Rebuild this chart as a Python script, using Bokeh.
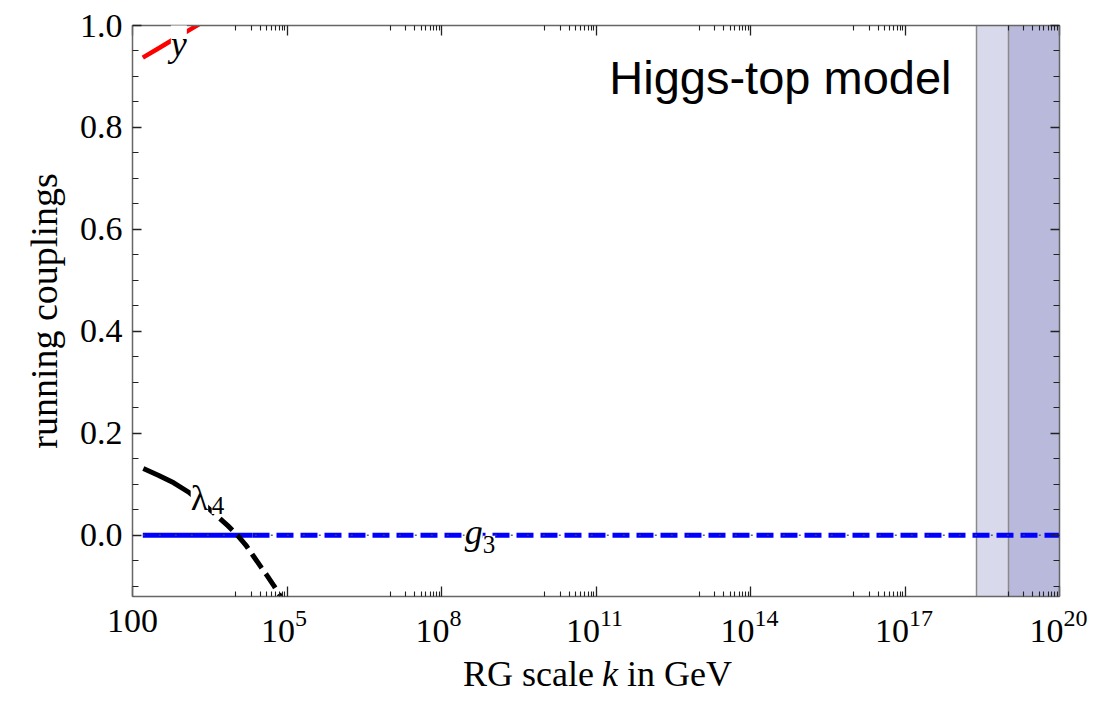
import numpy as np
from bokeh.plotting import figure
from bokeh.layouts import column
from bokeh.models import Range1d, FixedTicker, LogAxis, LinearAxis, Label, PrintfTickFormatter
from bokeh.core.properties import value
from bokeh.embed import file_html
from bokeh.resources import INLINE

# ---------------- data ----------------
x_major_exp = [2, 5, 8, 11, 14, 17, 20]
x_tick_base = ["100", "10", "10", "10", "10", "10", "10"]
x_tick_sup = ["", "5", "8", "11", "14", "17", "20"]
y_major = [0.0, 0.2, 0.4, 0.6, 0.8, 1.0]
y_minor = [-0.10, -0.05, 0.05, 0.10, 0.15, 0.25, 0.30, 0.35, 0.45, 0.50, 0.55,
           0.65, 0.70, 0.75, 0.85, 0.90, 0.95]

# Yukawa coupling y (red)
yuk_logk = [2.2, 2.5, 2.8, 3.1, 3.4]
yuk_vals = [0.937, 0.955, 0.973, 0.991, 1.009]

# quartic coupling lambda_4 (black): solid up to index 4, dashed after
lam_logk = [2.21, 2.5, 2.8, 3.1, 3.35, 3.65, 3.85, 4.04, 4.2, 4.35, 4.5, 4.62, 4.74, 4.85, 4.94]
lam_vals = [0.131, 0.118, 0.103, 0.084, 0.064, 0.037, 0.019, 0.000, -0.019, -0.041,
            -0.063, -0.080, -0.098, -0.116, -0.132]

# gauge coupling g3 (blue): solid up to index 1, dashed after
g3_logk = [2.2, 4.33, 20.0]
g3_vals = [0.0, 0.0, 0.0]

# shaded scale bands
band_light = [2.5e18, 1.0e19]
band_dark = [1.0e19, 1.0e20]

# ---------------- layout numbers ----------------
W = 1099
B_LEFT, B_RIGHT, B_TOP = 132, 40, 25
FRAME_H = 571
B_BOTTOM = 3
MAIN_H = B_TOP + FRAME_H + B_BOTTOM
STRIP_H = 694 - MAIN_H
XLO, XHI = 2.0, 20.0
SERIF = "Liberation Serif"

# ---------------- main figure ----------------
p = figure(width=W, height=MAIN_H, x_axis_type="log",
           x_range=Range1d(10 ** XLO, 10 ** XHI), y_range=Range1d(-0.12, 1.0),
           output_backend="svg", toolbar_location=None,
           min_border_left=B_LEFT, min_border_right=B_RIGHT,
           min_border_top=B_TOP, min_border_bottom=B_BOTTOM)
p.frame_align = False
p.grid.visible = False
p.outline_line_color = None

# bands
p.vstrip(x0=[band_light[0]], x1=[band_light[1]], fill_color="#d9d9ec", line_color=None)
p.vstrip(x0=[band_dark[0]], x1=[band_dark[1]], fill_color="#b9b9db", line_color=None)
p.vspan(x=[band_light[0], band_dark[0]], line_color="#8a8a8a", line_width=1.5)


def xk(arr):
    return [10.0 ** v for v in arr]


p.line(xk(g3_logk[:2]), g3_vals[:2], line_color="#0000ff", line_width=5)
p.line(xk(g3_logk[1:]), g3_vals[1:], line_color="#0000ff", line_width=5, line_dash="17 7")
p.line(xk(g3_logk), g3_vals, line_color="#404070", line_width=1.5, line_dash="2 14", line_alpha=0.8)

p.line(xk(lam_logk[:5]), lam_vals[:5], line_color="black", line_width=5)
p.line(xk(lam_logk[4:]), lam_vals[4:], line_color="black", line_width=5, line_dash="17 7")

p.line(xk(yuk_logk), yuk_vals, line_color="#ff0000", line_width=4.5)

# ---------------- axes ----------------
x_major = [10.0 ** e for e in x_major_exp]
x_minor = [k * 10.0 ** (e - 1) for e in x_major_exp[1:] for k in range(1, 10)]


def style_axis(ax):
    ax.axis_line_color = "#666666"
    ax.axis_line_width = 1.5
    ax.major_tick_in = 10
    ax.major_tick_out = 0
    ax.minor_tick_in = 5
    ax.minor_tick_out = 0
    ax.major_tick_line_color = "#222222"
    ax.minor_tick_line_color = "#222222"
    ax.major_tick_line_width = 1.3
    ax.minor_tick_line_width = 1.1


def hide_labels(ax):
    ax.major_label_text_font_size = "2px"
    ax.major_label_text_alpha = 0.0
    ax.major_label_standoff = 0


xb = p.xaxis[0]
xb.ticker = FixedTicker(ticks=x_major, minor_ticks=x_minor)
hide_labels(xb)
style_axis(xb)

yl = p.yaxis[0]
yl.ticker = FixedTicker(ticks=y_major, minor_ticks=y_minor)
yl.formatter = PrintfTickFormatter(format="%.1f")
yl.major_label_text_font = SERIF
yl.major_label_text_font_size = "34px"
yl.major_label_text_color = "black"
yl.major_label_standoff = 10
yl.axis_label = "running couplings"
yl.axis_label_text_font = SERIF
yl.axis_label_text_font_size = "38px"
yl.axis_label_text_font_style = "normal"
yl.axis_label_text_color = "black"
yl.axis_label_standoff = 12
style_axis(yl)
yl.major_tick_in = 9
yl.minor_tick_in = 6

top = LogAxis(ticker=FixedTicker(ticks=x_major, minor_ticks=x_minor))
hide_labels(top)
style_axis(top)
p.add_layout(top, "above")

right = LinearAxis(ticker=FixedTicker(ticks=y_major, minor_ticks=y_minor))
hide_labels(right)
style_axis(right)
right.major_tick_in = 9
right.minor_tick_in = 6
p.add_layout(right, "right")

# ---------------- in-plot labels ----------------
p.add_layout(Label(x=10 ** XHI, y=1.0, x_offset=-108, y_offset=-52, text="Higgs-top model",
                   text_align="right", text_baseline="alphabetic",
                   text_font="Liberation Sans", text_font_size="47px", text_color="black"))

p.add_layout(Label(x=10 ** 2.9, y=0.963, text="y", text_align="center",
                   text_baseline="alphabetic", text_font=SERIF, text_font_style="italic",
                   text_font_size="36px", text_color="black",
                   background_fill_color="white"))

p.add_layout(Label(x=10 ** 3.13, y=0.074, text="λ", text_align="left",
                   text_baseline="alphabetic", text_font=SERIF,
                   text_font_size="36px", text_color="black",
                   background_fill_color="white"))
p.add_layout(Label(x=10 ** 3.13, y=0.074, x_offset=21, y_offset=-8, text="4",
                   text_align="left", text_baseline="alphabetic", text_font=SERIF,
                   text_font_size="25px", text_color="black",
                   background_fill_color="white"))

p.add_layout(Label(x=10 ** 8.45, y=0.006, text="g", text_align="left",
                   text_baseline="alphabetic", text_font=SERIF, text_font_style="italic",
                   text_font_size="36px", text_color="black",
                   background_fill_color="white"))
p.add_layout(Label(x=10 ** 8.45, y=0.006, x_offset=18, y_offset=-12, text="3",
                   text_align="left", text_baseline="alphabetic", text_font=SERIF,
                   text_font_size="25px", text_color="black",
                   background_fill_color="white"))

# ---------------- bottom strip: x tick labels and x title ----------------
px_per_unit = (W - B_LEFT - B_RIGHT) / (XHI - XLO)
s = figure(width=W, height=STRIP_H,
           x_range=Range1d(XLO - B_LEFT / px_per_unit, XHI + B_RIGHT / px_per_unit),
           y_range=Range1d(STRIP_H, 0),
           x_axis_location=None, y_axis_location=None,
           output_backend="svg", toolbar_location=None,
           min_border_left=0, min_border_right=0, min_border_top=0, min_border_bottom=0)
s.frame_align = False
s.grid.visible = False
s.outline_line_color = None

Y_PLAIN, Y_BASE, Y_SUP, Y_TITLE = 21, 31, 19, 74

for e, base, sup in zip(x_major_exp, x_tick_base, x_tick_sup):
    if sup == "":
        s.text(x=[e], y=[Y_PLAIN], text=[base], text_align="center", text_baseline="alphabetic",
               text_font=value(SERIF), text_font_size="34px", text_color="black")
    else:
        dx = 8 if len(sup) == 1 else 4
        s.text(x=[e], y=[Y_BASE], text=[base], x_offset=dx, text_align="right",
               text_baseline="alphabetic", text_font=value(SERIF),
               text_font_size="34px", text_color="black")
        s.text(x=[e], y=[Y_SUP], text=[sup], x_offset=dx, text_align="left",
               text_baseline="alphabetic", text_font=value(SERIF),
               text_font_size="24px", text_color="black")

s.text(x=[11], y=[Y_TITLE], text=["RG scale"], x_offset=-2, text_align="right",
       text_baseline="alphabetic", text_font=value(SERIF), text_font_size="36px",
       text_color="black")
s.text(x=[11], y=[Y_TITLE], text=["k"], x_offset=14, text_align="center",
       text_baseline="alphabetic", text_font=value(SERIF), text_font_style="italic",
       text_font_size="36px", text_color="black")
s.text(x=[11], y=[Y_TITLE], text=["in GeV"], x_offset=31, text_align="left",
       text_baseline="alphabetic", text_font=value(SERIF), text_font_size="36px",
       text_color="black")

layout = column(p, s, spacing=0)
open("out.html", "w").write(file_html(layout, INLINE))
